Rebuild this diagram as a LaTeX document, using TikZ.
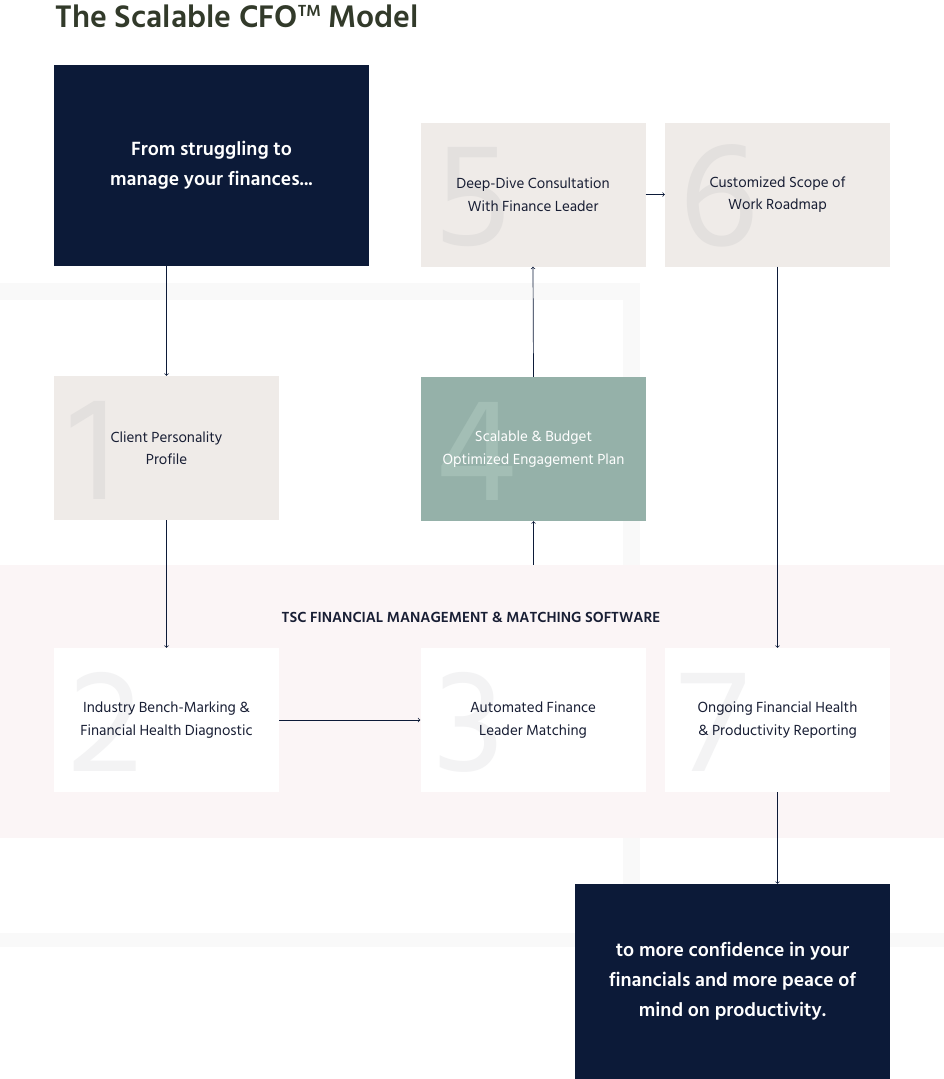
\documentclass[tikz,border=0pt]{standalone}
\usepackage{fontspec}
\setmainfont{Hind Siliguri}

\definecolor{navy}{RGB}{12,26,56}
\definecolor{ink}{RGB}{24,30,52}
\definecolor{olive}{RGB}{50,58,42}
\definecolor{stone}{RGB}{239,235,232}
\definecolor{stonenum}{RGB}{227,224,222}
\definecolor{sage}{RGB}{149,177,169}
\definecolor{sagenum}{RGB}{163,190,181}
\definecolor{blush}{RGB}{251,245,246}
\definecolor{paper}{RGB}{243,243,244}
\definecolor{frame}{RGB}{249,249,249}

\tikzset{
  box/.style={rectangle, minimum width=225pt, minimum height=144pt, inner sep=0pt},
  stonebox/.style={box, fill=stone},
  sagebox/.style={box, fill=sage},
  whitebox/.style={box, fill=white},
  bignum/.style={font=\fontsize{150}{150}\selectfont, inner sep=0pt, anchor=base west},
  steptext/.style={align=center, font=\fontsize{15}{22.5}\selectfont, text=ink},
  navybox/.style={rectangle, fill=navy, text=white, inner sep=0pt, align=center,
    minimum width=315pt, font=\bfseries\fontsize{19.6}{30}\selectfont},
  flow/.style={->, draw=navy, line width=0.7pt}
}

\begin{document}
\begin{tikzpicture}[x=1pt,y=-1pt]
    \useasboundingbox (0,0) rectangle (944,1079);

    % faint frame behind the diagram
    \fill[frame] (0,283) rectangle (640,300);
    \fill[frame] (623,283) rectangle (640,947);
    \fill[frame] (0,933) rectangle (944,947);

    \node[anchor=base west, text=olive, font=\bfseries\fontsize{32}{32}\selectfont]
        (title) at (52,27) {The Scalable CFO\raisebox{11pt}{\fontsize{16.5}{16.5}\selectfont TM} Model};

    % software band
    \node[rectangle, fill=blush, minimum width=944pt, minimum height=273pt, inner sep=0pt]
        (band) at (472,701.5) {};
    \node[font=\bfseries\fontsize{15}{15}\selectfont, text=ink] (bandlabel) at (471,617)
        {TSC FINANCIAL MANAGEMENT \& MATCHING SOFTWARE};

    \node[navybox, minimum height=201pt] (start) at (211.5,165.5)
        {From struggling to\\manage your finances...};

    % step boxes
    \node[stonebox] (s1) at (166.5,448) {};
    \node[whitebox] (s2) at (166.5,720) {};
    \node[whitebox] (s3) at (533,720) {};
    \node[sagebox]  (s4) at (533.5,449) {};
    \node[stonebox] (s5) at (533,194.5) {};
    \node[stonebox] (s6) at (777.5,194.5) {};
    \node[whitebox] (s7) at (777.5,720) {};

    % big numbers
    \node[bignum, text=stonenum] (n1) at ([xshift=14pt,yshift=21pt]s1.south west) {1};
    \node[bignum, text=paper]    (n2) at ([xshift=14pt,yshift=21pt]s2.south west) {2};
    \node[bignum, text=paper]    (n3) at ([xshift=14pt,yshift=21pt]s3.south west) {3};
    \node[bignum, text=sagenum]  (n4) at ([xshift=14pt,yshift=21pt]s4.south west) {4};
    \node[bignum, text=stonenum] (n5) at ([xshift=14pt,yshift=21pt]s5.south west) {5};
    \node[bignum, text=stonenum] (n6) at ([xshift=14pt,yshift=21pt]s6.south west) {6};
    \node[bignum, text=paper]    (n7) at ([xshift=14pt,yshift=21pt]s7.south west) {7};

    \node[steptext] (t1) at (s1) {Client Personality\\Profile};
    \node[steptext] (t2) at (s2) {Industry Bench-Marking \&\\Financial Health Diagnostic};
    \node[steptext] (t3) at (s3) {Automated Finance\\Leader Matching};
    \node[steptext, text=white] (t4) at (s4) {Scalable \& Budget\\Optimized Engagement Plan};
    \node[steptext] (t5) at (s5) {Deep-Dive Consultation\\With Finance Leader};
    \node[steptext] (t6) at (s6) {Customized Scope of\\Work Roadmap};
    \node[steptext] (t7) at (s7) {Ongoing Financial Health\\\& Productivity Reporting};

    \node[navybox, minimum height=195pt] (finish) at (732.5,981.5)
        {to more confidence in your\\financials and more peace of\\mind on productivity.};

    \draw[flow] (start.south -| s1) -- (s1.north);
    \draw[flow] (s1.south) -- (s2.north);
    \draw[flow] (s2.east) -- (s3.west);
    \draw[flow] (band.north -| s4) -- (s4.south);
    \draw[flow] (s4.north) -- (s5.south);
    \draw[flow] (s5.east) -- (s6.west);
    \draw[flow] (s6.south) -- (s7.north);
    \draw[flow] (s7.south) -- (finish.north -| s7);

\end{tikzpicture}
\end{document}
